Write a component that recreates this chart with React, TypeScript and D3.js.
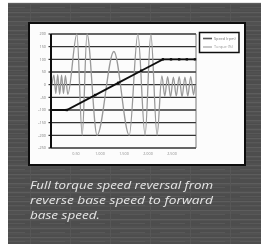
import React from "react";
import * as d3 from "d3";

const yTicks = [-250, -200, -150, -100, -50, 0, 50, 100, 150, 200];
const xTickValues = [0.5, 1.0, 1.5, 2.0, 2.5];
const xTickLabels = ["0.50", "1.000", "1.500", "2.000", "2.500"];

const speedTime = [0, 0.33, 0.92, 1.4, 1.88, 2.33, 2.5, 2.67, 2.83, 3.0];
const speedValue = [-100, -100, -41, 7, 55, 100, 100, 100, 100, 100];

const torqueTime = [
  0.02, 0.06, 0.1, 0.14, 0.18, 0.22, 0.26, 0.3, 0.35, 0.54, 0.65, 0.75, 0.96,
  1.31, 1.63, 1.81, 1.96, 2.08, 2.21, 2.31, 2.37, 2.43, 2.49, 2.55, 2.61, 2.67,
  2.73, 2.79, 2.85, 2.91, 2.97, 3.0,
];
const torqueValue = [
  0, 38, -35, 40, -38, 38, -35, 36, -38, 200, -200, 200, -200, 131, -200, 200,
  -200, 200, -200, 35, -45, 32, -48, 30, -45, 32, -48, 30, -45, 32, -40, 0,
];

const legendLabels = ["Speed (rpm)", "Torque (%)"];
const captionLines = [
  "Full torque speed reversal from",
  "reverse base speed to forward",
  "base speed.",
];

export default function App() {
  const x = d3.scaleLinear().domain([0, 3]).range([51, 195]);
  const y = d3.scaleLinear().domain([-250, 200]).range([148, 34]);

  const speedData = speedTime.map((t, i) => [t, speedValue[i]] as [number, number]);
  const torqueData = torqueTime.map((t, i) => [t, torqueValue[i]] as [number, number]);

  const speedLine = d3
    .line<[number, number]>()
    .x((d) => x(d[0]))
    .y((d) => y(d[1]));
  const torqueLine = d3
    .line<[number, number]>()
    .x((d) => x(d[0]))
    .y((d) => y(d[1]))
    .curve(d3.curveMonotoneX);

  const stripes = d3.range(0, 247, 7);

  return (
    <svg
      width={261}
      height={247}
      style={{ position: "absolute", left: 0, top: 0, background: "#fff" }}
      fontFamily="'Open Sans', 'DejaVu Sans', sans-serif"
    >
      <defs>
        <pattern id="tex" width="40" height="9" patternUnits="userSpaceOnUse">
          <rect width="40" height="9" fill="#4e4e4e" />
          <rect y="3" width="40" height="1.2" fill="#5d5d5d" />
          <rect y="7" width="25" height="1" fill="#585858" />
          <rect x="30" y="0" width="1" height="9" fill="#575757" />
        </pattern>
        <filter id="soft" x="-5%" y="-5%" width="110%" height="110%">
          <feGaussianBlur stdDeviation="0.35" />
        </filter>
      </defs>
      <g filter="url(#soft)">
        <rect x={8} y={3} width={253} height={241} fill="url(#tex)" />
        {stripes.map((s, i) => (
          <line
            key={i}
            x1={8}
            x2={261}
            y1={3 + s}
            y2={3 + s}
            stroke="#626262"
            strokeWidth={0.6}
            opacity={0.5}
          />
        ))}
        {/* chart box */}
        <rect x={29} y={23} width={216} height={142} fill="#fcfcfc" stroke="#111" strokeWidth={2} />

        {/* gridlines */}
        {yTicks.map((v) => (
          <line key={v} x1={51} x2={196} y1={y(v)} y2={y(v)} stroke="#333" strokeWidth={1.4} />
        ))}
        <line x1={196} x2={196} y1={y(200)} y2={y(-250)} stroke="#555" strokeWidth={0.8} />

        {/* torque */}
        <path d={torqueLine(torqueData) || ""} fill="none" stroke="#999" strokeWidth={1.3} />

        {/* speed */}
        <path d={speedLine(speedData) || ""} fill="none" stroke="#111" strokeWidth={1.9} />
        {speedData.slice(1).map((d, i) => (
          <rect key={i} x={x(d[0]) - 1.2} y={y(d[1]) - 1.2} width={2.4} height={2.4} fill="#111" />
        ))}

        {/* y axis */}
        <line x1={51} x2={51} y1={y(200)} y2={y(-250)} stroke="#111" strokeWidth={2} />
        {yTicks.map((v) => (
          <g key={v}>
            <line x1={48.5} x2={51} y1={y(v)} y2={y(v)} stroke="#111" strokeWidth={1} />
            <text x={46} y={y(v) + 1.3} fontSize={3.8} fill="#7a7a7a" textAnchor="end">
              {v}
            </text>
          </g>
        ))}
        {/* x axis */}
        {xTickValues.map((v, i) => (
          <text key={v} x={x(v) + 1} y={155} fontSize={3.8} fill="#8a8a8a" textAnchor="middle">
            {xTickLabels[i]}
          </text>
        ))}

        {/* legend */}
        <rect x={199.5} y={32.5} width={39.5} height={20} fill="#fff" stroke="#111" strokeWidth={1.5} />
        <line x1={203} x2={212} y1={38.5} y2={38.5} stroke="#555" strokeWidth={1.6} />
        <text x={214} y={39.8} fontSize={3.8} fill="#777">
          {legendLabels[0]}
        </text>
        <line x1={203} x2={212} y1={47} y2={47} stroke="#aaa" strokeWidth={1.3} />
        <text x={214} y={48.3} fontSize={3.8} fill="#999">
          {legendLabels[1]}
        </text>

        {/* caption */}
        {captionLines.map((t, i) => (
          <text
            key={i}
            x={30}
            y={189 + i * 15}
            fontSize={11.5}
            fontStyle="italic"
            fill="#e6e6e6"
            textLength={i === 2 ? 70 : 183}
            lengthAdjust="spacingAndGlyphs"
          >
            {t}
          </text>
        ))}
      </g>
    </svg>
  );
}
